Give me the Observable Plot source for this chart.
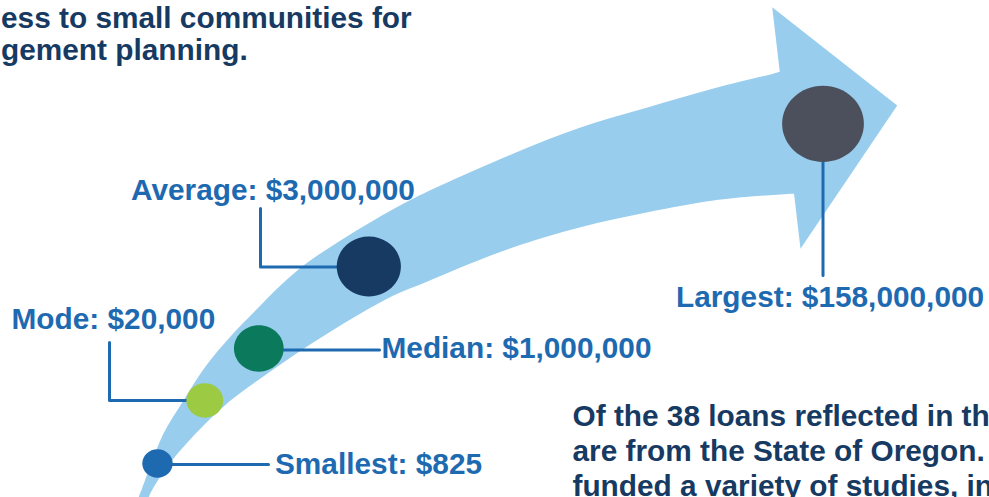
<!DOCTYPE html>
<html>
<head>
<meta charset="utf-8">
<script src="https://cdn.jsdelivr.net/npm/d3@7"></script>
<script src="https://cdn.jsdelivr.net/npm/@observablehq/plot@0.6"></script>
<style>
  html, body { margin: 0; padding: 0; background: #ffffff; }
  #chart svg { display: block; }
</style>
</head>
<body>
<div id="chart"></div>
<script>
// ---------- DATA ----------
const stats = ["Smallest", "Mode", "Median", "Average", "Largest"];
const amounts = [825, 20000, 1000000, 3000000, 158000000];
const headingLines = ["ess to small communities for", "gement planning."];
const bodyLines = [
  "Of the 38 loans reflected in th",
  "are from the State of Oregon.",
  "funded a variety of studies, in"
];

// ---------- LAYOUT (infographic geometry, in pixels) ----------
const dotCx = [157, 204.3, 258.3, 368.3, 822.5];
const dotCy = [463, 400, 348, 266, 123.3];
const dotR = [14.7, 17.8, 24, 31, 39.5];
const dotFill = ["#1e6ab0", "#9ccb43", "#0b7a5c", "#173a63", "#4b505c"];
const leaders = [
  [[157, 464], [268, 464]],
  [[204, 400], [109, 400], [109, 342]],
  [[258, 349.5], [379, 349.5]],
  [[368, 266.5], [260, 266.5], [260, 208]],
  [[822.5, 123], [822.5, 275]]
];
const labelX = [274.5, 11, 381, 130.5, 675.5];
const labelY = [473, 328, 357, 199.3, 306];
const bandUpper = [[131, 512], [138, 497], [150, 465], [163, 433], [183, 400], [205, 366], [230, 336], [255, 310], [281, 284], [307, 262], [340, 240], [373, 220], [407, 201], [440, 185], [513, 153], [580, 127], [647, 107], [713, 88], [770, 74], [800, 67.5], [812, 100], [815, 150]];
const bandLower = [[812, 191], [790, 193.3], [750, 196], [713, 200], [647, 211.7], [580, 226.7], [513, 246.7], [460, 267], [427, 281], [393, 295], [360, 313], [327, 333], [293, 355], [260, 378], [230, 400], [203, 425], [170, 462], [148, 497], [145, 512]];
const arrowHead = [[771.7, 6.7], [896.7, 105], [800, 248.3]];

const LABEL_BLUE = "#1e6ab1";
const NAVY = "#173a63";
const ARROW = "#98cdee";
const FONT = "'Liberation Sans', Arial, Helvetica, sans-serif";
const FS = 29.8;

// ---------- derived tables ----------
const fmt = d3.format(",");
const points = stats.map((s, i) => ({
  stat: s, amount: amounts[i],
  label: `${s}: $${fmt(amounts[i])}`,
  cx: dotCx[i], cy: dotCy[i], r: dotR[i], fill: dotFill[i],
  lx: labelX[i], ly: labelY[i]
}));
const leaderPts = leaders.flatMap((pts, i) => pts.map(([x, y]) => ({stat: stats[i], x, y})));
const bandPts = [...bandUpper, ...bandLower].map(([x, y]) => ({x, y}));
const headPts = arrowHead.map(([x, y]) => ({x, y}));
const heading = headingLines.map((t, i) => ({t, x: 0.5, y: [27, 59.5][i]}));
const body = bodyLines.map((t, i) => ({t, x: 572, y: [425, 460, 495.5][i]}));

// slightly elliptical dots
const ellipse = {
  draw(ctx, size) {
    const r = Math.sqrt(size / Math.PI);
    const rx = r * 1.035, ry = r * 0.965, k = 0.5523;
    ctx.moveTo(rx, 0);
    ctx.bezierCurveTo(rx, k * ry, k * rx, ry, 0, ry);
    ctx.bezierCurveTo(-k * rx, ry, -rx, k * ry, -rx, 0);
    ctx.bezierCurveTo(-rx, -k * ry, -k * rx, -ry, 0, -ry);
    ctx.bezierCurveTo(k * rx, -ry, rx, -k * ry, rx, 0);
    ctx.closePath();
  }
};

const chart = Plot.plot({
  width: 989,
  height: 497,
  margin: 0,
  x: {domain: [0, 989], range: [0, 989], axis: null},
  y: {domain: [0, 497], range: [0, 497], axis: null},
  r: {type: "identity"},
  color: {type: "identity"},
  style: {background: "#ffffff", overflow: "hidden", fontFamily: FONT},
  marks: [
    Plot.line(bandPts, {x: "x", y: "y", fill: ARROW, stroke: "none", curve: "catmull-rom"}),
    Plot.line(headPts, {x: "x", y: "y", fill: ARROW, stroke: "none", curve: "linear-closed"}),
    Plot.line(leaderPts, {x: "x", y: "y", z: "stat", stroke: LABEL_BLUE, strokeWidth: 3, curve: "linear"}),
    Plot.dot(points, {x: "cx", y: "cy", r: "r", fill: "fill", stroke: "none", symbol: ellipse}),
    Plot.text(points, {x: "lx", y: "ly", text: "label", fill: LABEL_BLUE, fontSize: FS, fontWeight: "bold", textAnchor: "start", lineAnchor: "bottom", fontFamily: FONT}),
    Plot.text(heading, {x: "x", y: "y", text: "t", fill: NAVY, fontSize: FS, fontWeight: "bold", textAnchor: "start", lineAnchor: "bottom", fontFamily: FONT}),
    Plot.text(body, {x: "x", y: "y", text: "t", fill: NAVY, fontSize: FS, fontWeight: "bold", textAnchor: "start", lineAnchor: "bottom", fontFamily: FONT})
  ]
});
document.getElementById("chart").appendChild(chart);
</script>
</body>
</html>
